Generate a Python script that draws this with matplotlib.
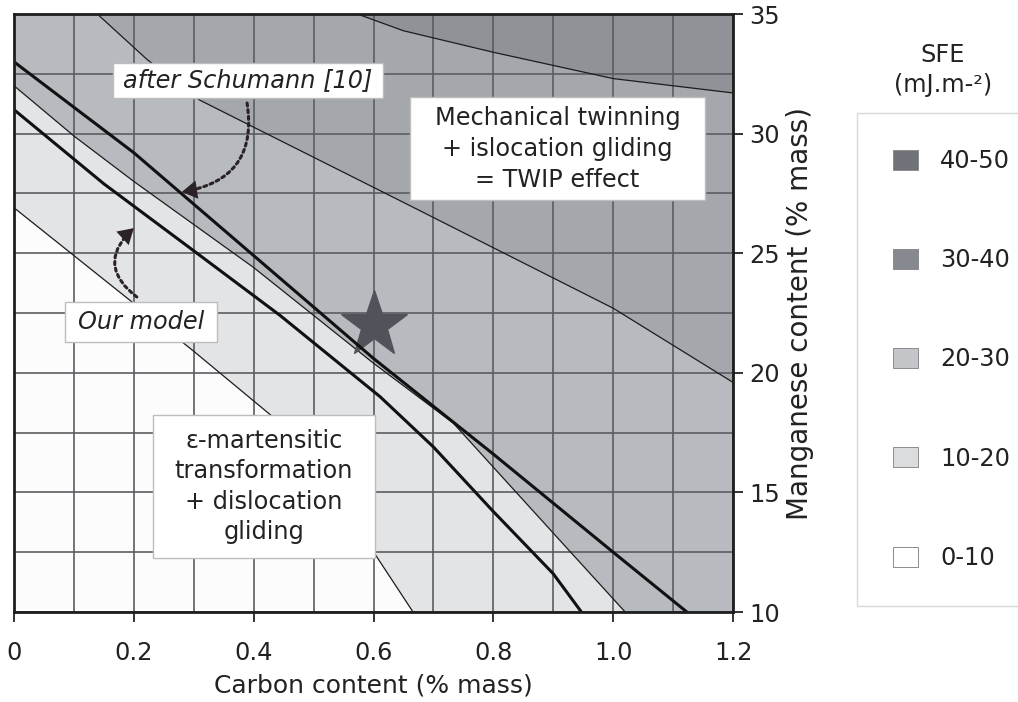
import numpy as np
import matplotlib
matplotlib.use("Agg")
import matplotlib.pyplot as plt
from matplotlib.patches import Patch, Rectangle

# ---------------- data ----------------
sfe_bands = ["40-50", "30-40", "20-30", "10-20", "0-10"]
band_colors = ["#8f9297", "#a4a7ac", "#b7babe", "#e2e4e6", "#fcfcfc"]
legend_colors = ["#6f7279", "#868990", "#c4c5c8", "#dbdcdd", "#ffffff"]

# SFE iso-lines (carbon %, manganese %)
b40_c = [0.0, 0.50, 0.573, 0.65, 0.80, 1.00, 1.20]
b40_mn = [40.0, 35.8, 35.0, 34.3, 33.4, 32.3, 31.7]
b30_c = [0.0, 0.10, 0.139, 0.222, 0.31, 0.644, 1.00, 1.20]
b30_mn = [38.0, 35.9, 35.0, 33.1, 31.4, 27.2, 22.7, 19.6]
b20_c = [0.0, 0.1, 0.2, 0.4, 0.6, 0.733, 0.9, 1.02, 1.10]
b20_mn = [32.0, 29.9, 28.0, 24.4, 20.4, 17.9, 13.3, 10.0, 7.8]
b10_c = [0.0, 0.15, 0.3, 0.43, 0.5, 0.56, 0.603, 0.666, 0.72]
b10_mn = [26.9, 23.9, 20.9, 18.2, 16.5, 14.2, 12.4, 10.0, 7.9]

# model boundaries (thick lines)
model_c = [0.0, 0.15, 0.3, 0.444, 0.611, 0.7, 0.8, 0.9, 0.947, 0.99]
model_mn = [31.0, 27.9, 25.1, 22.4, 19.0, 16.9, 14.2, 11.6, 10.0, 8.5]
schumann_c = [0.0, 0.2, 0.4, 0.6, 0.8, 1.0, 1.123, 1.2]
schumann_mn = [33.0, 29.2, 24.9, 20.6, 16.6, 12.5, 10.0, 8.4]

star_c = [0.6]
star_mn = [22.0]

x_ticks = [0.0, 0.2, 0.4, 0.6, 0.8, 1.0, 1.2]
x_ticklabels = ["0", "0.2", "0.4", "0.6", "0.8", "1.0", "1.2"]
y_ticks = [10, 15, 20, 25, 30, 35]

# ---------------- figure ----------------
plt.rcParams["font.family"] = ["DejaVu Sans"]
TXT = "#222222"
W, H = 1018, 702
fig = plt.figure(figsize=(W / 100, H / 100), dpi=100)
ax = fig.add_axes([14 / W, 1 - 612 / H, (733 - 14) / W, (612 - 14) / H])
ax.set_xlim(0, 1.2)
ax.set_ylim(10, 35)

# bands: background is the top band, each iso-line fills everything below it
ax.set_facecolor(band_colors[0])
isolines = [(b40_c, b40_mn), (b30_c, b30_mn), (b20_c, b20_mn), (b10_c, b10_mn)]
for (cc, mm), col in zip(isolines, band_colors[1:]):
    ax.fill_between(cc, 0, mm, color=col, lw=0, zorder=0.5)
for cc, mm in isolines:
    ax.plot(cc, mm, color="#1c1c1c", lw=0.9, zorder=2)

# star
ax.plot(star_c, star_mn, marker="*", ms=50, color="#50535a", ls="none", zorder=3)

# thick model lines
ax.plot(model_c, model_mn, color="#111111", lw=2.2, zorder=4)
ax.plot(schumann_c, schumann_mn, color="#111111", lw=2.2, zorder=4)

# grid
ax.set_xticks(x_ticks)
ax.set_xticklabels(x_ticklabels)
ax.set_xticks(np.arange(0.1, 1.2, 0.2), minor=True)
ax.set_yticks(y_ticks)
ax.set_yticks([12.5, 17.5, 22.5, 27.5, 32.5], minor=True)
ax.grid(which="both", color="#5a5d62", lw=1.2, zorder=1.5)
ax.set_axisbelow("line")

ax.yaxis.tick_right()
ax.yaxis.set_label_position("right")
ax.tick_params(which="major", direction="out", length=7, width=1.4, color="#333333",
               labelsize=17.4, labelcolor=TXT)
ax.tick_params(axis="x", which="major", pad=14)
ax.tick_params(axis="y", which="major", pad=5)
ax.tick_params(which="minor", length=0)
for s in ax.spines.values():
    s.set_linewidth(2.0)
    s.set_color("#1e1e1e")
    s.set_zorder(6)

ax.set_xlabel("Carbon content (% mass)", fontsize=18, color=TXT, labelpad=6)
ax.set_ylabel("Manganese content (% mass)", fontsize=20, color=TXT, labelpad=4)

# ---------------- annotation boxes ----------------
def box(x0, x1, y0, y1):
    ax.add_patch(Rectangle((x0, y0), x1 - x0, y1 - y0, facecolor="white",
                           edgecolor="#bdbdbd", lw=1.0, zorder=5))

box(0.165, 0.616, 31.49, 32.95)
ax.text(0.39, 32.22, "after Schumann [10]", style="italic", fontsize=17.3, color=TXT,
        ha="center", va="center", zorder=6)

box(0.661, 1.154, 27.22, 31.53)
ax.text(0.907, 29.37, "Mechanical twinning\n+ islocation gliding\n= TWIP effect",
        fontsize=17.3, color=TXT, ha="center", va="center", linespacing=1.37, zorder=6)

box(0.085, 0.339, 21.29, 22.96)
ax.text(0.212, 22.12, "Our model", style="italic", fontsize=17.3, color=TXT,
        ha="center", va="center", zorder=6)

box(0.232, 0.603, 12.26, 18.24)
ax.text(0.417, 15.25, "ε-martensitic\ntransformation\n+ dislocation\ngliding",
        fontsize=17.3, color=TXT, ha="center", va="center", linespacing=1.33, zorder=6)

# dotted curved arrows: dotted body + solid filled head
ARC = "#2a2226"
def dotted_arrow(tip, start, rad):
    ax.annotate("", xy=tip, xytext=start, zorder=6,
                arrowprops=dict(arrowstyle="-", linestyle=(0, (1, 1.2)), lw=2.2, color=ARC,
                                connectionstyle=f"arc3,rad={rad}", shrinkA=0, shrinkB=9))
    ax.annotate("", xy=tip, xytext=start, zorder=6,
                arrowprops=dict(arrowstyle="-|>,head_length=0.5,head_width=0.3", lw=0,
                                color=ARC, mutation_scale=22,
                                connectionstyle=f"arc3,rad={rad}", shrinkA=0, shrinkB=0))

dotted_arrow((0.280, 27.56), (0.389, 31.28), -0.5)
dotted_arrow((0.200, 26.05), (0.205, 23.17), -0.6)

# ---------------- legend ----------------
handles = [Patch(facecolor=c, edgecolor="#8c8c8c", lw=0.7, label=l)
           for c, l in zip(legend_colors, sfe_bands)]
leg = fig.legend(handles=handles, loc="upper left", bbox_to_anchor=(857 / W, 1 - 113 / H),
                 frameon=True, fancybox=False, edgecolor="#cfcfcf", facecolor="white",
                 fontsize=17.3, handlelength=1.05, handleheight=0.9, handletextpad=0.9,
                 labelspacing=3.13, borderpad=1.5, borderaxespad=0)
leg.get_frame().set_linewidth(1.0)
for t in leg.get_texts():
    t.set_color(TXT)
fig.text(943 / W, 1 - 55 / H, "SFE", fontsize=17.3, color=TXT, ha="center", va="center")
fig.text(943 / W, 1 - 85 / H, "(mJ.m-²)", fontsize=17.3, color=TXT, ha="center", va="center")

fig.savefig("out.png", dpi=100)
